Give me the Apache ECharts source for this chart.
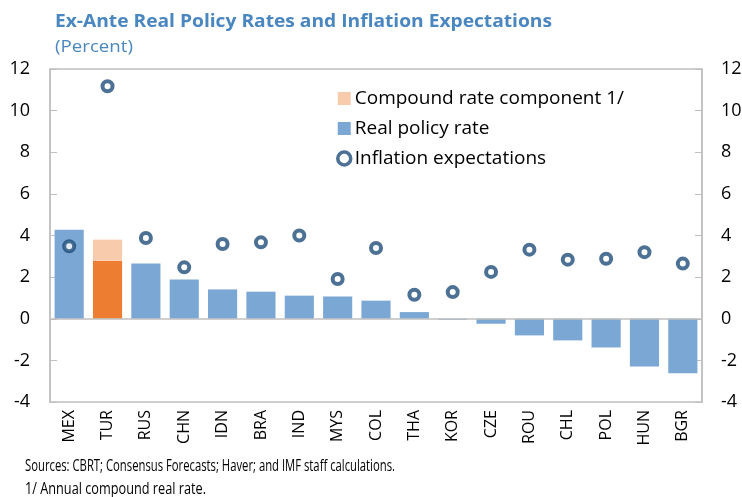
<!DOCTYPE html>
<html><head><meta charset="utf-8">
<script src="https://cdn.jsdelivr.net/npm/echarts@6/dist/echarts.min.js"></script>
<style>html,body{margin:0;padding:0;background:#fff}#c{width:742px;height:497px}</style>
</head><body><div id="c"></div>
<script>
var categories = ['MEX','TUR','RUS','CHN','IDN','BRA','IND','MYS','COL','THA','KOR','CZE','ROU','CHL','POL','HUN','BGR'];
var realPolicyRate = [4.28,2.79,2.66,1.88,1.41,1.30,1.11,1.07,0.87,0.32,-0.05,-0.24,-0.80,-1.04,-1.38,-2.30,-2.62];
var compoundComponent = [null,1.01,null,null,null,null,null,null,null,null,null,null,null,null,null,null,null];
var inflationExpectations = [3.48,11.17,3.88,2.47,3.59,3.67,4.00,1.91,3.40,1.15,1.28,2.25,3.32,2.84,2.88,3.20,2.65];
var yTicks = {min:-4, max:12, interval:2};
var titleText = 'Ex-Ante Real Policy Rates and Inflation Expectations';
var subtitleText = '(Percent)';
var noteTexts = ['Sources: CBRT; Consensus Forecasts; Haver; and IMF staff calculations.', '1/ Annual compound real rate.'];

var blue = '#7ba7d4', orange = '#ed7d31', peach = '#f8cbad', navy = '#1f4e79', titleBlue = '#4a86bf';
var font = 'Open Sans';
var ctx = document.createElement('canvas').getContext('2d');
function fitText(text, fontStr, x, y, width, fill) {
  ctx.font = fontStr;
  var w = ctx.measureText(text).width;
  return {type:'text', x:x, y:y, scaleX: width / w, silent:true,
    style:{text:text, font:fontStr, fill:fill, align:'left', verticalAlign:'middle'}};
}
var chart = echarts.init(document.getElementById('c'));
var barData = realPolicyRate.map(function(v,i){
  return categories[i]==='TUR' ? {value:v, itemStyle:{color:orange}} : v;
});
var yAxisBase = {
  type:'value', min:yTicks.min, max:yTicks.max, interval:yTicks.interval,
  axisLine:{show:true, lineStyle:{color:'#bfbfbf', width:1.5}},
  axisTick:{show:true, inside:true, length:7, lineStyle:{color:'#bfbfbf'}},
  splitLine:{show:false},
  axisLabel:{color:'#000', fontSize:18, fontFamily:font, margin:20}
};
chart.setOption({
  animation:false,
  graphic:[
    fitText(titleText, 'bold 18px "Open Sans"', 55, 22, 497, titleBlue),
    fitText(subtitleText, '17px "Open Sans"', 55, 47, 78, titleBlue),
    fitText(noteTexts[0], '16px "Open Sans"', 25, 466, 370, '#000'),
    fitText(noteTexts[1], '16px "Open Sans"', 25, 489, 181, '#000')
  ],
  grid:{left:50, right:40, top:69, bottom:95, outerBoundsMode:'none', containLabel:false,
    show:true, borderColor:'#bfbfbf', borderWidth:1.5, backgroundColor:'transparent'},
  legend:{
    orient:'vertical', left:331, top:84, itemGap:11, itemWidth:13, itemHeight:13,
    textStyle:{fontSize:19, fontFamily:font, color:'#000', padding:[0,0,0,-1]},
    data:[
      {name:'Compound rate component 1/', icon:'rect'},
      {name:'Real policy rate', icon:'rect'},
      {name:'Inflation expectations', icon:'circle', itemStyle:{color:'#fff', borderColor:navy, borderWidth:3.5}}
    ]
  },
  xAxis:{
    type:'category', data:categories,
    axisLine:{show:false, onZero:false}, axisTick:{show:false},
    axisLabel:{rotate:90, fontSize:16, fontFamily:font, color:'#000', margin:8, interval:0}
  },
  yAxis:[
    Object.assign({}, yAxisBase, {position:'left'}),
    Object.assign({}, yAxisBase, {position:'right', axisLabel:Object.assign({}, yAxisBase.axisLabel, {margin:19})})
  ],
  series:[
    {name:'Real policy rate', type:'bar', stack:'s', data:barData, barWidth:'76%',
     itemStyle:{color:blue},
     markLine:{silent:true, symbol:'none', label:{show:false},
       lineStyle:{color:'#bfbfbf', type:'solid', width:1.5}, data:[{yAxis:0}]}},
    {name:'Compound rate component 1/', type:'bar', stack:'s', data:compoundComponent, barWidth:'76%',
     itemStyle:{color:peach}},
    {name:'Inflation expectations', type:'scatter', data:inflationExpectations, symbol:'circle', symbolSize:10,
     itemStyle:{color:'#fff', borderColor:navy, borderWidth:4}, z:5}
  ]
});
</script></body></html>
